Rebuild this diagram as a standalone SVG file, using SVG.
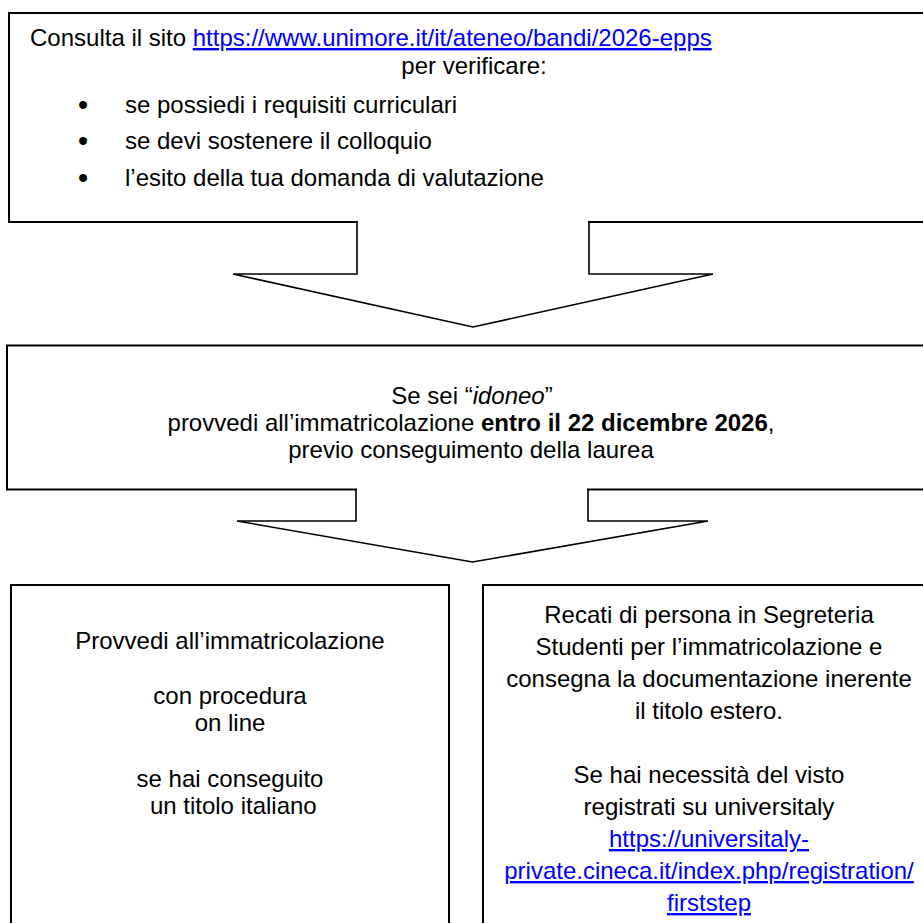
<svg xmlns="http://www.w3.org/2000/svg" width="923" height="923" viewBox="0 0 923 923">
<style>
  .box { fill: #ffffff; stroke: #000000; stroke-width: 2; }
  .t { font-family: "Liberation Sans", Arial, sans-serif; font-size: 24px; fill: #000000; }
  .c { text-anchor: middle; }
  .bul { font-family: "Liberation Sans", Arial, sans-serif; font-size: 29px; fill: #000000; text-anchor: middle; }
  .link { fill: #0000ff; text-decoration: underline; }
  .afill { fill: #ffffff; stroke: none; }
  .aline { fill: none; stroke: #000000; stroke-width: 1.6; stroke-linejoin: miter; }
</style>
<rect width="923" height="923" fill="#ffffff"/>

<g id="box-consulta">
  <rect class="box" x="9" y="13" width="940" height="209"/>
  <text class="t" x="30" y="46">Consulta il sito <tspan class="link">https://www.unimore.it/it/ateneo/bandi/2026-epps</tspan></text>
  <text class="t c" x="474" y="73.5">per verificare:</text>
  <text class="bul" x="83" y="114.5">•</text>
  <text class="t" x="125" y="112.7">se possiedi i requisiti curriculari</text>
  <text class="bul" x="83" y="151">•</text>
  <text class="t" x="125" y="149.3">se devi sostenere il colloquio</text>
  <text class="bul" x="83" y="187.8">•</text>
  <text class="t" x="125" y="186">l’esito della tua domanda di valutazione</text>
</g>

<g id="box-idoneo">
  <rect class="box" x="7" y="345.5" width="940" height="144"/>
  <text class="t c" x="472" y="404">Se sei “<tspan font-style="italic">idoneo</tspan>”</text>
  <text class="t c" x="471" y="431">provvedi all’immatricolazione <tspan font-weight="bold">entro il 22 dicembre 2026</tspan>,</text>
  <text class="t c" x="471" y="458">previo conseguimento della laurea</text>
</g>

<g id="box-online">
  <rect class="box" x="11" y="585" width="438" height="360"/>
  <text class="t c" x="230" y="649">Provvedi all’immatricolazione</text>
  <text class="t c" x="230" y="704">con procedura</text>
  <text class="t c" x="230" y="731">on line</text>
  <text class="t c" x="230" y="787">se hai conseguito</text>
  <text class="t c" x="233.3" y="814">un titolo italiano</text>
</g>

<g id="box-estero">
  <rect class="box" x="483" y="585" width="460" height="360"/>
  <text class="t c" x="709" y="623">Recati di persona in Segreteria</text>
  <text class="t c" x="709" y="655">Studenti per l’immatricolazione e</text>
  <text class="t c" x="709" y="687">consegna la documentazione inerente</text>
  <text class="t c" x="709" y="719">il titolo estero.</text>
  <text class="t c" x="709" y="783">Se hai necessità del visto</text>
  <text class="t c" x="709" y="815">registrati su universitaly</text>
  <text class="t c link" x="709" y="847">https://universitaly-</text>
  <text class="t c link" x="709" y="879">private.cineca.it/index.php/registration/</text>
  <text class="t c link" x="709" y="911">firststep</text>
</g>

<g id="connectors">
  <g id="arrow-1">
    <polygon class="afill" points="358,219 358,274 233,274 473,327 713,274 588,274 588,219"/>
    <polyline class="aline" points="357,222 357,274 233,274 473,327 713,274 589,274 589,222"/>
  </g>
  <g id="arrow-2">
    <polygon class="afill" points="357,487 357,521 237,521 472.5,562 708,521 587,521 587,487"/>
    <polyline class="aline" points="356,490 356,521 237,521 472.5,562 708,521 588,521 588,490"/>
  </g>
</g>
</svg>
